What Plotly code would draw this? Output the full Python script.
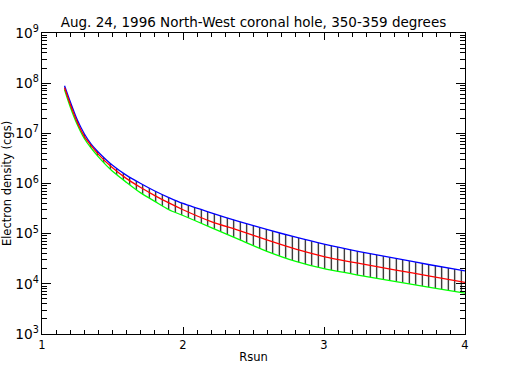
import plotly.graph_objects as go

# Heliocentric distance (solar radii)
radius = [1.16, 1.2, 1.25, 1.3, 1.35, 1.4, 1.5, 1.6, 1.7, 1.8, 1.9, 2.0,
          2.2, 2.4, 2.6, 2.8, 3.0, 3.25, 3.5, 3.75, 4.0]

# Electron density (cm^-3)
density_max = [8.9e7, 4.3e7, 1.86e7, 9.8e6, 6.0e6, 4.2e6, 2.3e6, 1.45e6, 1.0e6,
               7.1e5, 5.25e5, 4.0e5, 2.6e5, 1.74e5, 1.2e5, 8.5e4, 6.2e4, 4.4e4,
               3.25e4, 2.4e4, 1.82e4]
density_mean = [8.1e7, 3.8e7, 1.66e7, 8.7e6, 5.6e6, 3.8e6, 2.05e6, 1.25e6, 8.3e5,
                5.75e5, 4.1e5, 3.0e5, 1.74e5, 1.15e5, 7.4e4, 4.9e4, 3.5e4, 2.55e4,
                1.9e4, 1.43e4, 1.07e4]
density_min = [7.4e7, 3.4e7, 1.5e7, 7.9e6, 5.0e6, 3.4e6, 1.75e6, 1.05e6, 6.5e5,
               4.4e5, 3.0e5, 2.3e5, 1.32e5, 7.6e4, 4.4e4, 2.8e4, 2.0e4, 1.48e4,
               1.12e4, 8.5e3, 6.5e3]

FONT = "DejaVu Sans"
fig = go.Figure()

# dotted individual-profile band (vertical hatching between min and max)
fig.add_trace(go.Scatter(x=radius, y=density_min, mode="lines",
                         line=dict(width=0, shape="spline", smoothing=0.7),
                         showlegend=False, hoverinfo="skip"))
fig.add_trace(go.Scatter(x=radius, y=density_max, mode="lines",
                         line=dict(width=0, shape="spline", smoothing=0.7),
                         fill="tonexty", fillcolor="rgba(0,0,0,0)",
                         fillpattern=dict(shape="|", fgcolor="black",
                                          bgcolor="rgba(0,0,0,0)",
                                          size=6.5, solidity=0.17, fgopacity=1),
                         showlegend=False, hoverinfo="skip"))

for ys, col in [(density_min, "#00ff00"), (density_max, "#0000ff"),
                (density_mean, "#ff0000")]:
    fig.add_trace(go.Scatter(x=radius, y=ys, mode="lines",
                             line=dict(color=col, width=1.3, shape="spline",
                                       smoothing=0.7),
                             showlegend=False))

fig.update_layout(
    width=505, height=388,
    margin=dict(l=42, r=40, t=33, b=54, autoexpand=False),
    paper_bgcolor="white", plot_bgcolor="white",
    font=dict(family=FONT, size=12, color="black"),
    title=dict(text="Aug. 24, 1996 North-West coronal hole, 350-359 degrees",
               x=0.5, xref="paper", xanchor="center",
               y=1 - 22 / 388, yanchor="middle",
               font=dict(family=FONT, size=13.5, color="black")),
)

fig.update_xaxes(
    range=[1, 4], tickmode="linear", tick0=1, dtick=1,
    ticks="inside", ticklen=7, tickcolor="black", tickwidth=1,
    minor=dict(dtick=0.1, ticks="inside", ticklen=4, tickcolor="black",
               tickwidth=1, showgrid=False),
    showline=True, linecolor="black", linewidth=1, mirror="ticks",
    showgrid=False, zeroline=False,
    title=dict(text="Rsun", font=dict(family=FONT, size=11.5), standoff=2),
    tickfont=dict(family=FONT, size=11.5),
)

fig.update_yaxes(
    type="log", range=[3, 9], tickmode="linear", tick0=0, dtick=1,
    exponentformat="power", showexponent="all",
    ticks="inside", ticklen=9, tickcolor="black", tickwidth=1,
    minor=dict(dtick="D1", ticks="inside", ticklen=5, tickcolor="black",
               tickwidth=1, showgrid=False),
    showline=True, linecolor="black", linewidth=1, mirror="ticks",
    showgrid=False, zeroline=False,
    title=dict(text="Electron density (cgs)", font=dict(family=FONT, size=11.5),
               standoff=3),
    tickfont=dict(family=FONT, size=11),
)

fig.write_html("out.html",
               config={"displayModeBar": False},
               post_script="document.body.style.margin='0';"
                           "document.body.style.padding='0';")
